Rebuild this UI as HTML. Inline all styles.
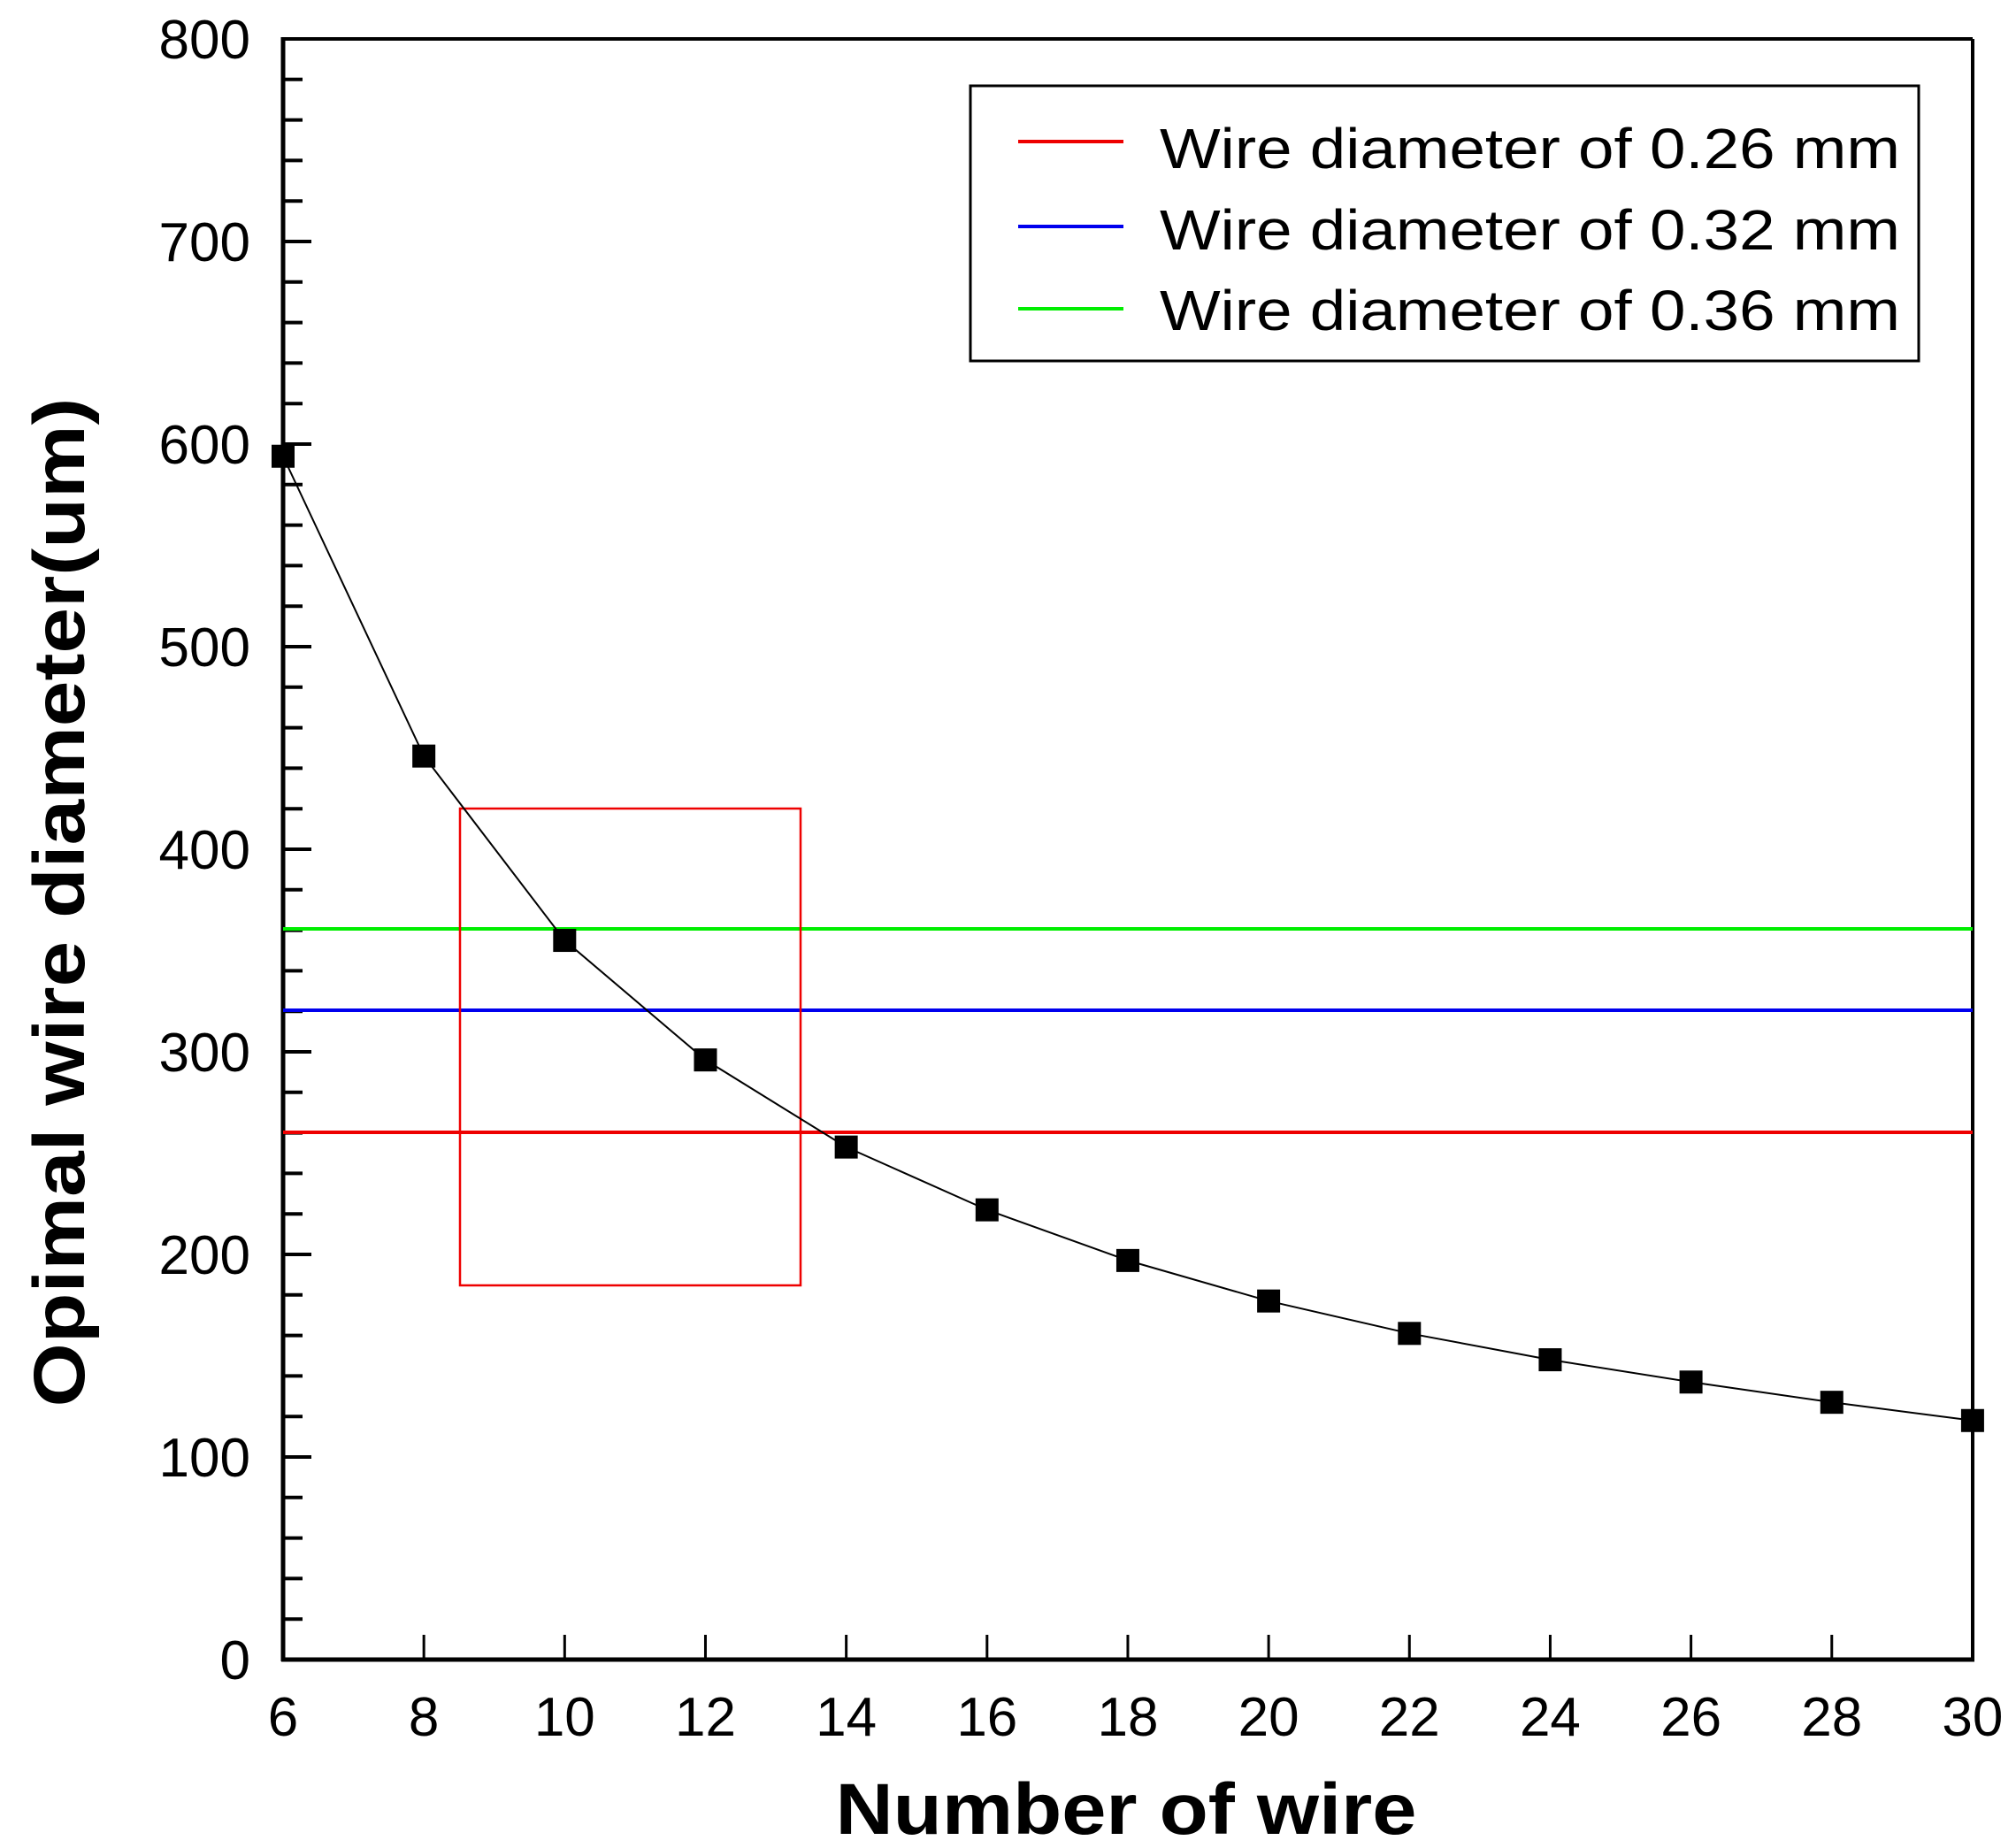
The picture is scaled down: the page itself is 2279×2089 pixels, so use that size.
<!DOCTYPE html>
<html><head><style>html,body{margin:0;padding:0;background:#fff;}svg{display:block}</style></head>
<body>
<svg width="2279" height="2089" viewBox="0 0 2279 2089" xmlns="http://www.w3.org/2000/svg" font-family="Liberation Sans, Arial, sans-serif">
<rect width="2279" height="2089" fill="#fff"/>
<!-- frame -->
<line x1="320" y1="44" x2="2230" y2="44" stroke="#000" stroke-width="4"/>
<line x1="2230" y1="44" x2="2230" y2="1876" stroke="#000" stroke-width="4"/>
<line x1="320" y1="42" x2="320" y2="1878" stroke="#000" stroke-width="5"/>
<line x1="318" y1="1876" x2="2232" y2="1876" stroke="#000" stroke-width="5"/>
<g stroke="#000" stroke-width="4" id="yt"></g>
<g stroke="#000" stroke-width="3" id="xt"></g>
<g font-size="62" text-anchor="end" id="yl"></g>
<g font-size="62" text-anchor="middle" id="xl"></g>
<!-- ref lines -->
<line x1="320" y1="1050" x2="2230" y2="1050" stroke="#00ee00" stroke-width="4"/>
<line x1="320" y1="1142" x2="2230" y2="1142" stroke="#0000ee" stroke-width="4"/>
<line x1="320" y1="1280" x2="2230" y2="1280" stroke="#ee0000" stroke-width="4"/>
<!-- red box -->
<rect x="520" y="914" width="385" height="539" fill="none" stroke="#ee0000" stroke-width="2.5"/>
<polyline id="curve" fill="none" stroke="#000" stroke-width="2"/>
<g id="mk" fill="#000"></g>
<!-- legend -->
<rect x="1097" y="97" width="1072" height="311" fill="#fff" stroke="#000" stroke-width="3"/>
<line x1="1151" y1="160" x2="1270" y2="160" stroke="#ee0000" stroke-width="4"/>
<line x1="1151" y1="256" x2="1270" y2="256" stroke="#0000ee" stroke-width="4"/>
<line x1="1151" y1="349" x2="1270" y2="349" stroke="#00ee00" stroke-width="4"/>
<g font-size="64">
<text x="1311" y="190" textLength="837" lengthAdjust="spacingAndGlyphs">Wire diameter of 0.26 mm</text>
<text x="1311" y="282" textLength="837" lengthAdjust="spacingAndGlyphs">Wire diameter of 0.32 mm</text>
<text x="1311" y="373" textLength="837" lengthAdjust="spacingAndGlyphs">Wire diameter of 0.36 mm</text>
</g>
<text x="1273" y="2073" font-size="82" font-weight="bold" text-anchor="middle" textLength="657" lengthAdjust="spacingAndGlyphs">Number of wire</text>
<text transform="translate(95,1020) rotate(-90)" font-size="82" font-weight="bold" text-anchor="middle" textLength="1141" lengthAdjust="spacingAndGlyphs">Opimal wire diameter(um)</text>
<script>
var ns="http://www.w3.org/2000/svg";
function el(p,t,a,txt){var e=document.createElementNS(ns,t);for(var k in a)e.setAttribute(k,a[k]);if(txt!==undefined)e.textContent=txt;document.getElementById(p).appendChild(e);}
function Y(v){return 1876-v*2.29;}
function X(n){return 320+(n-6)*79.58;}
for(var v=0;v<=800;v+=20){var y=Y(v);var L=(v%100==0)?32:22;if(v>0&&v<800)el("yt","line",{x1:320,y1:y,x2:320+L,y2:y});
if(v%100==0)el("yl","text",{x:283,y:y+22},String(v));}
for(var n=6;n<=30;n+=2){var x=X(n);if(n>6&&n<30)el("xt","line",{x1:x,y1:1876,x2:x,y2:1848});el("xl","text",{x:x,y:1962},String(n));}
var d=[[6,594],[8,446],[10,355],[12,296],[14,253],[16,222],[18,197],[20,177],[22,161],[24,148],[26,137],[28,127],[30,118]];
var pts=[];d.forEach(function(p){var x=X(p[0]),y=Y(p[1]);pts.push(x+","+y);el("mk","rect",{x:x-13,y:y-13,width:26,height:26});});
document.getElementById("curve").setAttribute("points",pts.join(" "));
</script>
</svg>
</body></html>
